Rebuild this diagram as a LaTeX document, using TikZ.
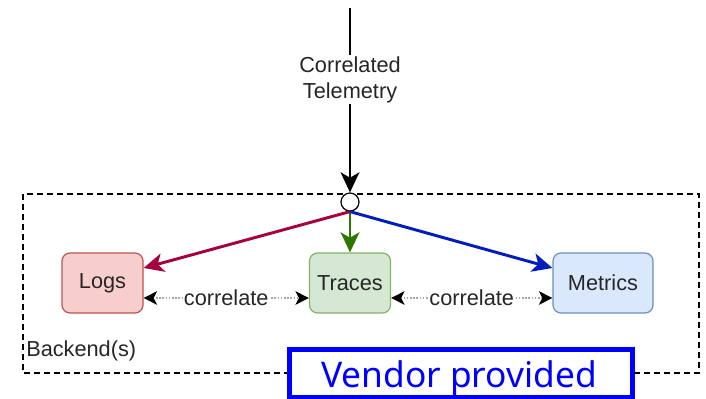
\documentclass[tikz,border=0pt]{standalone}
\usepackage{fontspec}
\setmainfont{Liberation Sans}
\newfontfamily\vendorfont{Noto Sans}
\usetikzlibrary{arrows.meta}
\definecolor{logfill}{HTML}{F8CECC}
\definecolor{logdraw}{HTML}{B85450}
\definecolor{trfill}{HTML}{D5E8D4}
\definecolor{trdraw}{HTML}{82B366}
\definecolor{mefill}{HTML}{DAE8FC}
\definecolor{medraw}{HTML}{6C8EBF}
\definecolor{redarrow}{HTML}{A50040}
\definecolor{greenarrow}{HTML}{2D7600}
\definecolor{bluearrow}{HTML}{001DBC}
\definecolor{vendorblue}{HTML}{0000FF}
\begin{document}
\begin{tikzpicture}[x=0.75pt,y=-0.75pt,
  signal/.style={draw, rounded corners=6pt, line width=0.9pt, minimum width=81*0.75pt, minimum height=60*0.75pt, inner sep=0pt, font=\fontsize{16.3}{19}\selectfont, text=black!85},
  flow/.style={line width=2.2pt, -{Stealth[length=15pt,width=14pt,inset=4pt]}},
  corr/.style={line width=1.8pt, draw=gray!70, dash pattern=on 1.2pt off 1.2pt, {Stealth[black,length=10pt,width=10pt,inset=2.5pt]}-{Stealth[black,length=10pt,width=10pt,inset=2.5pt]}},
  lbl/.style={fill=white, inner sep=1pt, font=\fontsize{16.3}{19}\selectfont, text=black!85}
]
\useasboundingbox (0,0) rectangle (706,399);
\clip (0,0) rectangle (706,399);
% backend box
\draw[line width=1.1pt, dash pattern=on 4.5pt off 3pt] (23,194) rectangle (699,373);
\node[anchor=south west, inner sep=0pt, font=\fontsize{16.3}{19}\selectfont, text=black!85] (backend) at (26,361) {Backend(s)};
% nodes
\node[signal, fill=logfill, draw=logdraw] (logs) at (102.5,283) {Logs};
\node[signal, fill=trfill, draw=trdraw] (traces) at (350,283) {Traces};
\node[signal, fill=mefill, draw=medraw, minimum width=100*0.75pt] (metrics) at (603,283) {Metrics};
\node[circle, draw, fill=white, line width=0.9pt, minimum size=18*0.75pt, inner sep=0pt] (hub) at (350,202) {};
\coordinate (top) at (350,8);
% incoming
\draw[flow, black] (top) -- (hub.north) node[pos=0.39, lbl, align=center, font=\fontsize{16.3}{19.5}\selectfont] (tl) {Correlated\\Telemetry};
% outgoing
\draw[flow, redarrow] (hub.south) -- (logs.east |- 0,268);
\draw[flow, greenarrow] (hub.south) -- (traces.north);
\draw[flow, bluearrow] (hub.south) -- (metrics.west |- 0,268);
% correlate
\draw[corr] (logs.east |- 0,298) -- (traces.west |- 0,298) node[midway, lbl] (c1) {correlate};
\draw[corr] (traces.east |- 0,298) -- (metrics.west |- 0,298) node[midway, lbl] (c2) {correlate};
% vendor box
\draw[vendorblue, line width=4pt, fill=white] (289.5,349.5) rectangle (632.5,397.5);
\node[text=vendorblue, font=\vendorfont\fontsize{26.5}{30}\selectfont, inner sep=0pt, anchor=base] (vendor) at (459,387) {Vendor provided};
\end{tikzpicture}
\end{document}
